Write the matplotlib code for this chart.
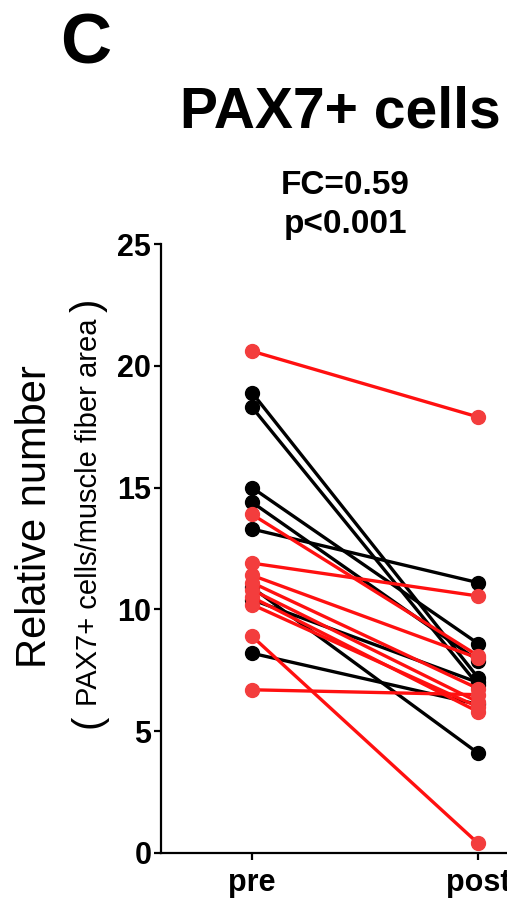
import matplotlib.pyplot as plt

plt.rcParams['font.family'] = ['Liberation Sans', 'DejaVu Sans']

# paired values, pre vs post
black_pre = [18.9, 18.3, 15.0, 14.4, 13.3, 10.9, 10.4, 8.2]
black_post = [7.2, 6.9, 8.6, 7.9, 11.1, 4.1, 7.0, 6.1]
red_pre = [20.6, 13.9, 11.9, 11.4, 11.1, 10.8, 10.5, 10.2, 8.9, 6.7]
red_post = [17.9, 8.1, 10.55, 8.0, 6.75, 6.2, 5.8, 6.0, 0.4, 6.5]
groups = ['pre', 'post']
yticks = [0, 5, 10, 15, 20, 25]

W, H = 507, 902
fig = plt.figure(figsize=(W / 100, H / 100), dpi=100)
ax = fig.add_axes([161 / W, (H - 853) / H, 1 - 161 / W, (853 - 244) / H])


def fx(px):
    return px / W


def fy(py):
    return 1 - py / H


for a, b in zip(black_pre, black_post):
    ax.plot([0, 1], [a, b], '-o', color='black', lw=2.4, ms=10,
            mfc='black', mec='black', clip_on=False, zorder=3)
for a, b in zip(red_pre, red_post):
    ax.plot([0, 1], [a, b], '-', color='#ff1010', lw=2.4, clip_on=False, zorder=3)
    ax.plot([0, 1], [a, b], 'o', ms=10, mfc='#f33d3d', mec='#f33d3d',
            clip_on=False, zorder=4)

ax.set_xlim(-(252 - 161) / 226, (507 - 252) / 226)
ax.set_ylim(0, 25)
ax.set_xticks([0, 1])
ax.set_xticklabels(groups, fontsize=22, fontweight='bold')
ax.set_yticks(yticks)
ax.set_yticklabels([str(t) for t in yticks], fontsize=22, fontweight='bold')
for s in ['top', 'right']:
    ax.spines[s].set_visible(False)
for s in ['left', 'bottom']:
    ax.spines[s].set_linewidth(1.6)
ax.tick_params(width=1.6, length=5, pad=2)
ax.tick_params(axis='x', pad=6)

fig.text(fx(86), fy(45), 'C', fontsize=51, fontweight='bold', ha='center', va='center')
fig.text(fx(340), fy(113), 'PAX7+ cells', fontsize=41, fontweight='bold',
         ha='center', va='center')
fig.text(fx(345), fy(185), 'FC=0.59', fontsize=24, fontweight='bold',
         ha='center', va='center')
fig.text(fx(345), fy(225), 'p<0.001', fontsize=24, fontweight='bold',
         ha='center', va='center')

fig.text(fx(35), fy(517), 'Relative number', fontsize=30, rotation=90,
         ha='center', va='center')
fig.text(fx(89), fy(512), 'PAX7+ cells/muscle fiber area', fontsize=21,
         rotation=90, ha='center', va='center')
fig.text(fx(89), fy(721), '(', fontsize=29, rotation=90, rotation_mode='anchor',
         ha='center', va='center')
fig.text(fx(89), fy(305), ')', fontsize=29, rotation=90, rotation_mode='anchor',
         ha='center', va='center')

fig.savefig('out.png', dpi=100)
